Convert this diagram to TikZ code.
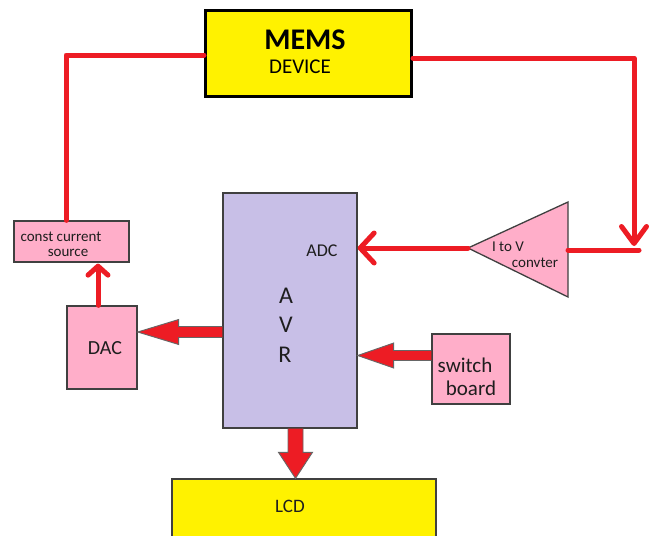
\documentclass[tikz,border=0pt]{standalone}
\usepackage{fontspec}
\setmainfont{Carlito}
\usetikzlibrary{arrows.meta,calc}
\definecolor{pred}{HTML}{ED1C24}
\definecolor{pyellow}{HTML}{FFF200}
\definecolor{ppink}{HTML}{FFAEC9}
\definecolor{plav}{HTML}{C8BFE7}
\definecolor{bgray}{HTML}{404040}
\definecolor{tgray}{HTML}{1E1E1E}
\newcommand{\fs}[1]{\fontsize{#1}{#1}\selectfont}
\begin{document}
\begin{tikzpicture}[x=1pt,y=-1pt,
  box/.style={draw=bgray, line width=1.3pt, inner sep=0pt, rectangle},
  txt/.style={inner sep=0pt, text=tgray},
  redline/.style={draw=pred, line width=5pt, line cap=round, line join=round},
  barbadc/.style={-{Straight Barb[length=14pt,width=30pt,round]}},
  barbdown/.style={-{Straight Barb[length=17pt,width=25pt,round]}},
  barbsmall/.style={-{Straight Barb[length=9pt,width=20pt,round]}},
  barrow/.style={fill=pred, draw=bgray!80, line width=0.9pt, line join=miter}]
\useasboundingbox (0,0) rectangle (652,535);
\fill[white] (0,0) rectangle (652,535);

% boxes
\node[box, draw=black, line width=3pt, fill=pyellow, minimum width=206pt, minimum height=86pt] (mems) at (308.5,53.5) {};
\node[box, fill=ppink, minimum width=115pt, minimum height=41pt] (ccs) at (71.5,241.5) {};
\node[box, fill=ppink, minimum width=70pt, minimum height=83pt] (dac) at (102,347.5) {};
\node[box, fill=plav, minimum width=134pt, minimum height=235pt] (avr) at (290,310.5) {};
\node[box, fill=ppink, minimum width=78pt, minimum height=70pt] (sw) at (471,369) {};
\node[box, fill=pyellow, minimum width=264pt, minimum height=62pt] (lcd) at (304,510) {};

% I to V triangle
\coordinate (ivtip) at (468,248);
\coordinate (ivtop) at (568,202);
\coordinate (ivbot) at (568,297);
\filldraw[fill=ppink, draw=bgray, line width=1.3pt, line join=miter] (ivtip) -- (ivtop) -- (ivbot) -- cycle;

% texts
\node[txt, text=black, font=\fs{30}\bfseries] (tmems) at (305,40) {MEMS};
\node[txt, text=black, font=\fs{21}] (tdev) at (300,67) {DEVICE};
\node[txt, font=\fs{15}] (tcc1) at (61,237) {const current};
\node[txt, font=\fs{15}] (tcc2) at (68,253) {source};
\node[txt, font=\fs{20}] (tdac) at (105,348) {DAC};
\node[txt, font=\fs{18}] (tadc) at (322,251) {ADC};
\node[txt, font=\fs{24}] (ta) at (286,296) {A};
\node[txt, font=\fs{24}] (tv) at (286,325) {V};
\node[txt, font=\fs{24}] (tr) at (285,355) {R};
\node[txt, font=\fs{15}] (tiv1) at (508,247) {I to V};
\node[txt, font=\fs{15}] (tiv2) at (535,263) {convter};
\node[txt, font=\fs{21}] (tsw1) at (465,365) {switch};
\node[txt, font=\fs{21}] (tsw2) at (471,388) {board};
\node[txt, font=\fs{19}] (tlcd) at (290,506) {LCD};

% helper coordinates
\coordinate (lx) at (66,0);
\coordinate (rcorner) at (634,58);
\coordinate (rarr) at (634,246);
\coordinate (rbot) at (639,250);
\coordinate (dx) at (98,0);
\coordinate (y250) at (0,250);

% red loop lines
\draw[redline] ($(mems.west)+(0,1.5)$) -| (ccs.north -| lx);
\draw[redline, barbdown] ($(mems.east)+(0,4.5)$) -- (rcorner) -- (rarr);
\draw[redline] (ivtop |- y250) -- (rbot);
\draw[redline, barbadc] (ivtip) -- (avr.east |- ivtip);
\draw[redline, barbsmall] (dac.north -| dx) -- ($(ccs.south -| dx)+(0,1)$);

% block arrows
% AVR -> DAC
\coordinate (t1) at (dac.east |- 0,332);
\coordinate (s1) at (avr.west |- 0,332);
\filldraw[barrow] ($(s1)+(0,-5.5)$) -- ($(t1)+(41,-5.5)$) -- ($(t1)+(41,-12.5)$) -- (t1)
  -- ($(t1)+(41,12.5)$) -- ($(t1)+(41,5.5)$) -- ($(s1)+(0,5.5)$);
% switch -> AVR
\coordinate (t2) at (avr.east |- 0,355.5);
\coordinate (s2) at (sw.west |- 0,355.5);
\filldraw[barrow] ($(s2)+(0,-5)$) -- ($(t2)+(36,-5)$) -- ($(t2)+(36,-12.5)$) -- (t2)
  -- ($(t2)+(36,12.5)$) -- ($(t2)+(36,5)$) -- ($(s2)+(0,5)$);
% AVR -> LCD
\coordinate (t3) at (lcd.north -| 295.5,0);
\coordinate (s3) at (avr.south -| 295.5,0);
\filldraw[barrow] ($(s3)+(-7.5,0)$) -- ($(t3)+(-7.5,-26)$) -- ($(t3)+(-17,-26)$) -- (t3)
  -- ($(t3)+(17,-26)$) -- ($(t3)+(7.5,-26)$) -- ($(s3)+(7.5,0)$);
\end{tikzpicture}
\end{document}
